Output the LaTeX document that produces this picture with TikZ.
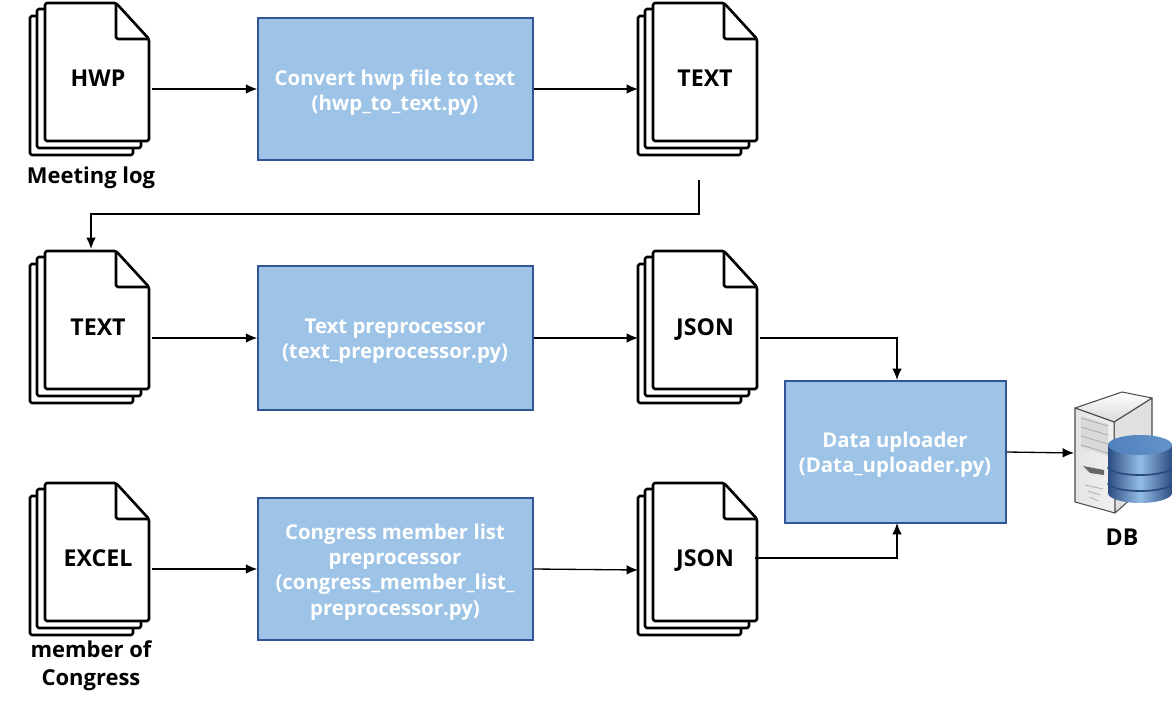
\documentclass[tikz,border=0pt]{standalone}
\usepackage{fontspec}
\setmainfont{Open Sans}
\usetikzlibrary{arrows.meta}
\definecolor{BoxClr}{rgb}{0.616,0.765,0.902}
\definecolor{BoxEdge}{rgb}{0.184,0.333,0.592}
\definecolor{DbClr}{rgb}{0.31,0.506,0.741}
\definecolor{DbDark}{rgb}{0.17,0.30,0.50}
\definecolor{DbLight}{rgb}{0.58,0.74,0.90}
\definecolor{TowerClr}{rgb}{0.85,0.85,0.85}
\tikzset{
  sheet/.style={draw=black,fill=white,line width=1.5pt,rounded corners=1pt,line join=round},
  procbox/.style={draw=BoxEdge,fill=BoxClr,line width=0.9pt,minimum width=275*0.02cm},
  boxtext/.style={align=center,text=white,font=\fontsize{11.6}{14.4}\selectfont\bfseries},
  doctext/.style={text=black,font=\fontsize{13.2}{16}\selectfont\bfseries},
  caption/.style={align=center,text=black,font=\fontsize{12.5}{16}\selectfont\bfseries},
  link/.style={draw=black,line width=0.75pt,-{Latex[length=6.5pt,width=5.5pt]}},
  docstack/.pic={
    \path[sheet] (-15,13) -- (56,13) -- (88,49) -- (88,152) -- (-15,152) -- cycle;
    \path[sheet] (-8,6) -- (63,6) -- (96,42) -- (96,145) -- (-8,145) -- cycle;
    \path[sheet] (0,0) -- (71,0) -- (104,36) -- (104,138) -- (0,138) -- cycle;
    \draw[sheet,fill=none] (71,0) -- (71,36) -- (104,36);
  }
}
\begin{document}
\begin{tikzpicture}[x=0.02cm,y=-0.02cm]
\useasboundingbox (0,0) rectangle (1172,702);

% first row
\pic (hwpdoc) at (45,3) {docstack};
\pic (textdoca) at (653,3) {docstack};
\node[doctext] (hwplabel) at (98,78) {HWP};
\node[doctext] (textlabela) at (705,78) {TEXT};
\node[caption] (meetinglog) at (91,178) {Meeting log};
\node[procbox,minimum height=142*0.02cm] (convert) at (395.5,89) {};
\node[boxtext] (converttext) at (395,93) {Convert hwp file to text\\(hwp\_to\_text.py)};

% second row
\pic (textdocb) at (45,251) {docstack};
\pic (jsondoca) at (653,251) {docstack};
\node[doctext] (textlabelb) at (98,327) {TEXT};
\node[doctext] (jsonlabela) at (705,330) {JSON};
\node[procbox,minimum height=144*0.02cm] (preproc) at (395.5,338) {};
\node[boxtext] (preproctext) at (395,341) {Text preprocessor\\(text\_preprocessor.py)};

% third row
\pic (exceldoc) at (45,483) {docstack};
\pic (jsondocb) at (653,483) {docstack};
\node[doctext] (excellabel) at (98,558) {EXCEL};
\node[doctext] (jsonlabelb) at (705,561) {JSON};
\node[caption] (memberlabel) at (91,666) {member of\\Congress};
\node[procbox,minimum height=142*0.02cm] (congress) at (395.5,569) {};
\node[boxtext] (congresstext) at (395,572) {Congress member list\\preprocessor\\(congress\_member\_list\_\\preprocessor.py)};

% uploader
\node[procbox,minimum width=221*0.02cm,minimum height=142*0.02cm] (uploader) at (895.5,452) {};
\node[boxtext] (uploadertext) at (895,455) {Data uploader\\(Data\_uploader.py)};

% server tower
\fill[TowerClr!80!white,draw=black!70,line width=0.6pt,line join=round] (1114,422) -- (1152,398) -- (1152,480) -- (1115,513) -- cycle;
\shade[top color=white,bottom color=TowerClr,draw=black!70,line width=0.6pt,line join=round] (1075,408) -- (1122,392) -- (1152,398) -- (1114,422) -- cycle;
\shade[left color=TowerClr!70!white,right color=TowerClr!40!white,draw=black!70,line width=0.6pt,line join=round] (1075,408) -- (1114,422) -- (1115,513) -- (1075,502) -- cycle;
\fill[black!15] (1081,416) -- (1108,424) -- (1108,456) -- (1081,447) -- cycle;
\foreach \yy in {0,9,18,27}
  \draw[black!35,line width=0.4pt] (1081,418+\yy) -- (1108,426+\yy);
\fill[black!60] (1083,466) -- (1104,470) -- (1104,475) -- (1090,473) -- cycle;
\foreach \yy in {0,6,12}
  \draw[black!30,line width=0.5pt] (1085+\yy*0.4,485+\yy) -- (1103-\yy*0.4,489+\yy);
\coordinate (tower) at (1074,453);

% database
\shade[left color=DbDark,right color=DbDark,middle color=DbLight] (1108,445) -- (1108,493) arc[start angle=180,end angle=0,x radius=32,y radius=10] -- (1172,445) -- cycle;
\shade[left color=DbClr,right color=DbClr!70!DbLight] (1140,445) ellipse[x radius=32,y radius=10];
\foreach \yy in {467,483}
  \draw[DbDark,line width=1pt] (1108,\yy) arc[start angle=180,end angle=0,x radius=32,y radius=8];
\node[doctext] (dblabel) at (1122,537) {DB};

% connectors
\coordinate (hwpout) at (152,89);
\coordinate (textaout) at (699,180);
\coordinate (textbin) at (91,249);
\coordinate (textbout) at (152,338);
\coordinate (jsonaout) at (760,338);
\coordinate (excelout) at (152,569);
\coordinate (jsonbout) at (755,558);

\draw[link] (hwpout) -- (convert.west |- hwpout);
\draw[link] (convert.east) -- (638,89);
\draw[link] (textaout) |- (91,214) -- (textbin);
\draw[link] (textbout) -- (preproc.west |- textbout);
\draw[link] (preproc.east) -- (638,338);
\draw[link] (jsonaout) -| (897,380);
\draw[link] (excelout) -- (congress.west |- excelout);
\draw[link] (congress.east) -- (638,570);
\draw[link] (jsonbout) -| (897,523);
\draw[link] (uploader.east) -- (tower);

\end{tikzpicture}
\end{document}
